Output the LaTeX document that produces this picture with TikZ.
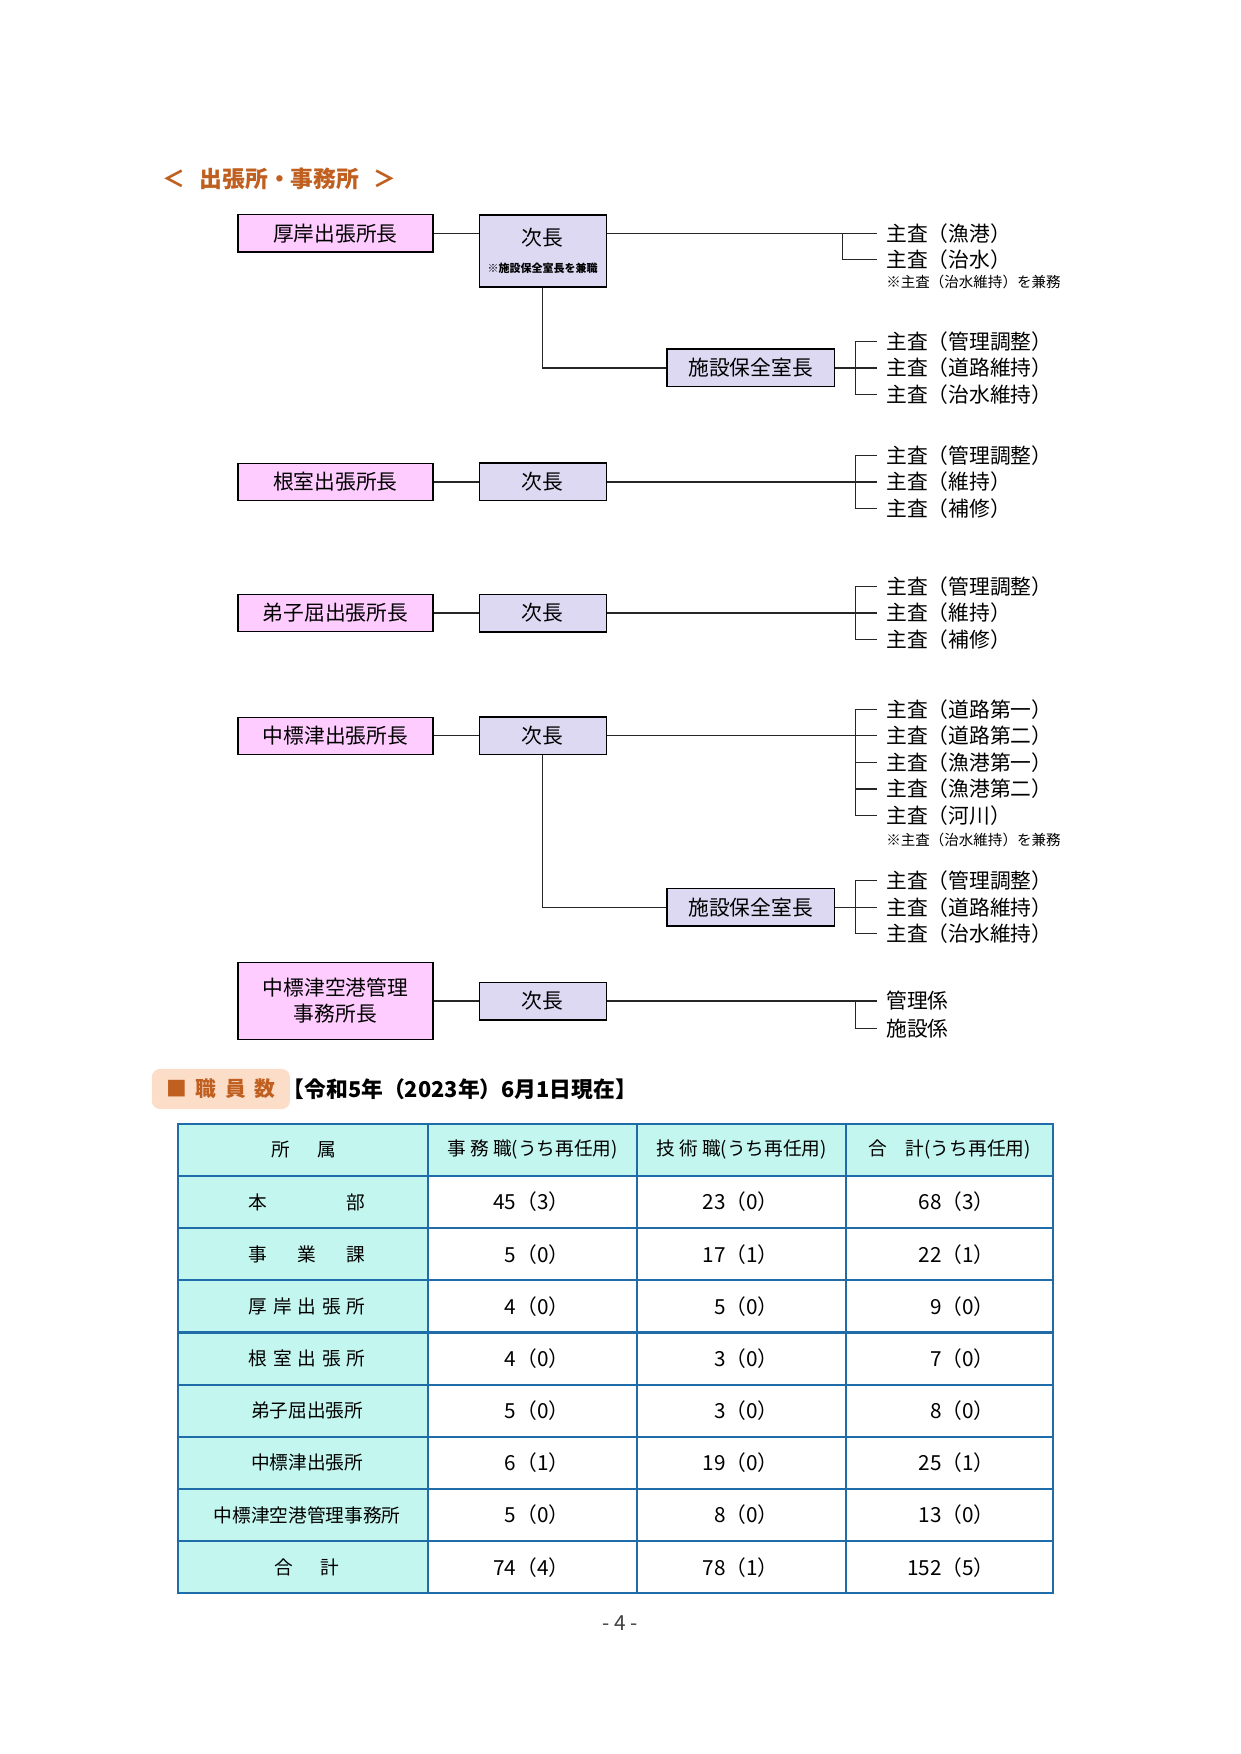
\documentclass[tikz,border=0pt]{standalone}
\usepackage{fontspec}
\usepackage{tikz}
\usetikzlibrary{positioning,calc}
\newfontfamily\jp{Noto Sans CJK JP}
\definecolor{headcol} {RGB}{255,204,255}
\definecolor{vicecol} {RGB}{222,217,243}
\definecolor{titlecol}{RGB}{192,96,32}
\definecolor{tagcol}  {RGB}{252,221,200}
\definecolor{tabline} {RGB}{31,108,168}
\definecolor{tabfill} {RGB}{196,246,240}

\begin{document}
\begin{tikzpicture}[
  font=\jp,
  hbox/.style={rectangle,draw=black,fill=headcol,
               minimum width=3.30cm,minimum height=0.63cm,
               font=\jp\fontsize{10}{12.5}\selectfont,align=center,
               inner sep=1pt,line width=0.6pt},
  vbox/.style={rectangle,draw=black,fill=vicecol,
               minimum width=2.15cm,minimum height=0.64cm,
               font=\jp\fontsize{10}{12}\selectfont,align=center,
               inner sep=1pt,line width=0.6pt},
  rbox/.style={vbox,minimum width=2.83cm},
  post/.style={anchor=west,inner xsep=0.15cm,inner ysep=1pt,
               font=\jp\fontsize{10}{12}\selectfont},
  memo/.style={post,font=\jp\fontsize{7}{8}\selectfont},
  ln/.style={line width=0.6pt,black!85},
  tline/.style={line width=1pt,draw=tabline},
  cell/.style={font=\jp\fontsize{9}{11}\selectfont,inner sep=0pt},
  num/.style={anchor=east,font=\jp\fontsize{10}{12}\selectfont,inner sep=0pt}
]
\useasboundingbox (0,0) rectangle (21,-29.7);

\node[anchor=west,inner sep=0pt,text=titlecol,
      font=\jp\bfseries\fontsize{11}{13}\selectfont] (ttl) at (2.74,-3.03)
  {＜\hspace{7pt}出張所・事務所\hspace{7pt}＞};

% 厚岸
\node[hbox] (h1) at (5.68,-3.95) {厚岸出張所長};
\node[vbox,minimum height=1.22cm] (v1) at (9.19,-4.25)
  {次長\\[1pt]{\fontsize{5.3}{6}\selectfont\bfseries ※施設保全室長を兼職}};
\node[post] (p1a) at (14.85,-3.95) {主査（漁港）};
\node[post] (p1b) at (14.85,-4.40) {主査（治水）};
\node[memo] (m1)  at (14.85,-4.78) {※主査（治水維持）を兼務};
\node[rbox] (r1) at (12.71,-6.23) {施設保全室長};
\node[post] (s1a) at (14.85,-5.78) {主査（管理調整）};
\node[post] (s1b) at (14.85,-6.23) {主査（道路維持）};
\node[post] (s1c) at (14.85,-6.68) {主査（治水維持）};
\draw[ln] (h1.east) -- (h1.east -| v1.west);
\draw[ln] (h1.east -| v1.east) -- (p1a.west);
\draw[ln] ([xshift=-0.58cm]p1a.west) |- (p1b.west);
\draw[ln] (v1.south) |- (r1.west);
\draw[ln] (r1.east) -- (s1b.west);
\draw[ln] (s1a.west) -- ++(-0.37,0) |- (s1c.west);

% 根室
\node[hbox] (h2) at (5.68,-8.16) {根室出張所長};
\node[vbox] (v2) at (9.19,-8.16) {次長};
\node[post] (p2a) at (14.85,-7.71) {主査（管理調整）};
\node[post] (p2b) at (14.85,-8.16) {主査（維持）};
\node[post] (p2c) at (14.85,-8.61) {主査（補修）};
\draw[ln] (h2) -- (v2);
\draw[ln] (v2.east) -- (p2b.west);
\draw[ln] (p2a.west) -- ++(-0.37,0) |- (p2c.west);

% 弟子屈
\node[hbox] (h3) at (5.68,-10.38) {弟子屈出張所長};
\node[vbox] (v3) at (9.19,-10.38) {次長};
\node[post] (p3a) at (14.85,-9.93) {主査（管理調整）};
\node[post] (p3b) at (14.85,-10.38) {主査（維持）};
\node[post] (p3c) at (14.85,-10.83) {主査（補修）};
\draw[ln] (h3) -- (v3);
\draw[ln] (v3.east) -- (p3b.west);
\draw[ln] (p3a.west) -- ++(-0.37,0) |- (p3c.west);

% 中標津
\node[hbox] (h4) at (5.68,-12.46) {中標津出張所長};
\node[vbox] (v4) at (9.19,-12.46) {次長};
\node[post] (p4a) at (14.85,-12.01) {主査（道路第一）};
\node[post] (p4b) at (14.85,-12.46) {主査（道路第二）};
\node[post] (p4c) at (14.85,-12.91) {主査（漁港第一）};
\node[post] (p4d) at (14.85,-13.36) {主査（漁港第二）};
\node[post] (p4e) at (14.85,-13.81) {主査（河川）};
\node[memo] (m4)  at (14.85,-14.22) {※主査（治水維持）を兼務};
\node[rbox] (r4) at (12.71,-15.36) {施設保全室長};
\node[post] (s4a) at (14.85,-14.91) {主査（管理調整）};
\node[post] (s4b) at (14.85,-15.36) {主査（道路維持）};
\node[post] (s4c) at (14.85,-15.81) {主査（治水維持）};
\draw[ln] (h4) -- (v4);
\draw[ln] (v4.east) -- (p4b.west);
\draw[ln] (p4a.west) -- ++(-0.37,0) |- (p4e.west);
\foreach \k in {c,d} \draw[ln] (p4\k.west) -- ++(-0.37,0);
\draw[ln] (v4.south) |- (r4.west);
\draw[ln] (r4.east) -- (s4b.west);
\draw[ln] (s4a.west) -- ++(-0.37,0) |- (s4c.west);

% 中標津空港
\node[hbox,minimum height=1.30cm] (h5) at (5.68,-16.95) {中標津空港管理\\事務所長};
\node[vbox] (v5) at (9.19,-16.95) {次長};
\node[post] (p5a) at (14.85,-16.95) {管理係};
\node[post] (p5b) at (14.85,-17.42) {施設係};
\draw[ln] (h5) -- (v5);
\draw[ln] (v5.east) -- (p5a.west);
\draw[ln] ([xshift=-0.37cm]p5a.west) |- (p5b.west);

% 職員数
\node[fill=tagcol,rounded corners=4pt,minimum width=2.34cm,minimum height=0.68cm,
      inner sep=0pt,text=titlecol,font=\jp\bfseries\fontsize{10}{12}\selectfont] (tag)
  at (3.74,-18.44) {■\hspace{4pt}職\hspace{4pt}員\hspace{4pt}数};
\node[anchor=west,inner sep=0pt,font=\jp\bfseries\fontsize{10.5}{12}\selectfont] (asof)
  at (4.78,-18.44) {【令和5年（2023年）6月1日現在】};

\fill[tabfill] (3.01,-19.03) rectangle (17.83,-19.913);
\fill[tabfill] (3.01,-19.913) rectangle (7.25,-26.977);
\foreach \y in {1,...,8} \draw[tline] (3.01,-19.03-0.883*\y) -- (17.83,-19.03-0.883*\y);
\foreach \x in {7.25,10.79,14.33} \draw[tline] (\x,-19.03) -- (\x,-26.977);
\draw[tline] (3.01,-19.03) rectangle (17.83,-26.977);

\node[cell] (th0) at (5.15,-19.47) {\makebox[1.09cm][s]{所\hfil 属}};
\node[cell] (th1) at (9.02,-19.47) {事 務 職(うち再任用)};
\node[cell] (th2) at (12.56,-19.47) {技 術 職(うち再任用)};
\node[cell] (th3) at (16.08,-19.47) {合　計(うち再任用)};
\foreach \lab/\a/\b/\c [count=\i] in {
  {\makebox[1.98cm][s]{本\hfil 部}}/45（3）/23（0）/68（3）,
  {\makebox[1.98cm][s]{事\hfil 業\hfil 課}}/5（0）/17（1）/22（1）,
  {\makebox[1.98cm][s]{厚\hfil 岸\hfil 出\hfil 張\hfil 所}}/4（0）/5（0）/9（0）,
  {\makebox[1.98cm][s]{根\hfil 室\hfil 出\hfil 張\hfil 所}}/4（0）/3（0）/7（0）,
  弟子屈出張所/5（0）/3（0）/8（0）,
  中標津出張所/6（1）/19（0）/25（1）,
  中標津空港管理事務所/5（0）/8（0）/13（0）,
  {\makebox[1.09cm][s]{合\hfil 計}}/74（4）/78（1）/152（5）}
{
  \node[cell] (tl\i) at (5.2,-19.4715-0.883*\i) {\lab};
  \node[num] (ta\i) at (9.65,-19.4715-0.883*\i) {\a};
  \node[num] (tb\i) at (13.19,-19.4715-0.883*\i) {\b};
  \node[num] (tc\i) at (16.85,-19.4715-0.883*\i) {\c};
}

\node[font=\jp\fontsize{10}{12}\selectfont,text=black!75] (pg) at (10.5,-27.49) {- 4 -};
\end{tikzpicture}
\end{document}
